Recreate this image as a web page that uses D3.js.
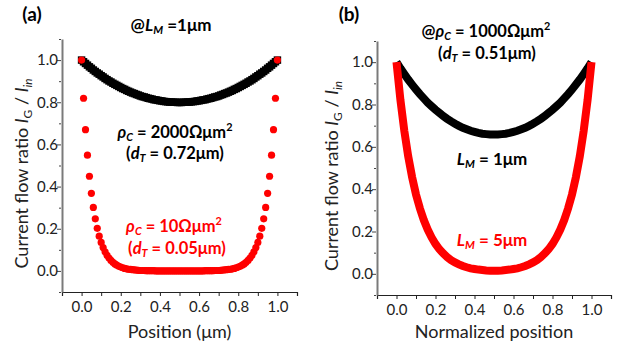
<!DOCTYPE html>
<html>
<head>
<meta charset="utf-8">
<script src="https://cdn.jsdelivr.net/npm/d3@7"></script>
<style>
  body { margin: 0; background: #fff; }
  svg { font-family: Lato, "Open Sans", sans-serif; }
</style>
</head>
<body>
<div class="grafico"></div>
<script>
var width = 623, height = 351;

// panel (a): position in um, sampled every 0.01 um
var stepA = 0.01;
var blackA = [1.000, .992, .984, .976, .968, .961, .953, .946, .939, .933, .926, .920, .913, .907, .901, .896, .890, .885, .880, .875,
  .870, .865, .861, .856, .852, .848, .844, .841, .837, .834, .830, .827, .825, .822, .819, .817, .815, .812, .811, .809,
  .807, .806, .804, .803, .802, .801, .801, .800, .800, .799, .799, .799, .800, .800, .801, .801, .802, .803, .804, .806,
  .807, .809, .811, .812, .815, .817, .819, .822, .825, .827, .830, .834, .837, .841, .844, .848, .852, .856, .861, .865,
  .870, .875, .880, .885, .890, .896, .901, .907, .913, .920, .926, .933, .939, .946, .953, .961, .968, .976, .984, .992, 1.000];
var redA = [1.000, .819, .670, .549, .449, .368, .301, .247, .202, .165, .135, .111, .091, .074, .061, .050, .041, .033, .027, .022,
  .018, .015, .012, .010, .008, .007, .006, .005, .004, .003, .002, .002, .002, .001, .001, .001, .001, .001, 0, 0,
  0, 0, 0, 0, 0, 0, 0, 0, 0, 0, 0, 0, 0, 0, 0, 0, 0, 0, 0, 0,
  0, 0, 0, .001, .001, .001, .001, .001, .002, .002, .002, .003, .004, .005, .006, .007, .008, .010, .012, .015,
  .018, .022, .027, .033, .041, .050, .061, .074, .091, .111, .135, .165, .202, .247, .301, .368, .449, .549, .670, .819, 1.000];

// panel (b): normalized position, sampled every 0.02
var stepB = 0.02;
var blackB = [1.000, .971, .944, .918, .894, .871, .849, .829, .809, .792, .775, .760, .745, .732, .720, .709, .699, .690, .683, .676,
  .671, .666, .662, .660, .658, .658, .658, .660, .662, .666, .671, .676, .683, .690, .699, .709, .720, .732, .745, .760,
  .775, .792, .809, .829, .849, .871, .894, .918, .944, .971, 1.000];
var redB = [1.000, .822, .676, .555, .457, .375, .309, .254, .209, .172, .141, .116, .096, .079, .065, .054, .045, .037, .031, .026,
  .023, .020, .018, .016, .015, .015, .015, .016, .018, .020, .023, .026, .031, .037, .045, .054, .065, .079, .096, .116,
  .141, .172, .209, .254, .309, .375, .457, .555, .676, .822, 1.000];

var majorTicks = [0, 0.2, 0.4, 0.6, 0.8, 1.0];
var allTicks = [-0.1, 0, 0.1, 0.2, 0.3, 0.4, 0.5, 0.6, 0.7, 0.8, 0.9, 1.0, 1.1];

var svg = d3.select(".grafico").append("svg")
  .attr("width", width)
  .attr("height", height);

// text with italic / sub / superscript pieces
function rich(x, y, parts, opt) {
  opt = opt || {};
  var size = opt.size || 17;
  var t = svg.append("text")
    .attr("x", x)
    .attr("y", y)
    .attr("text-anchor", opt.anchor || "middle")
    .attr("font-size", size)
    .attr("font-weight", opt.bold ? "bold" : null)
    .attr("fill", opt.color || "#000");
  if (opt.rotate) t.attr("transform", "rotate(-90," + x + "," + y + ")");
  var shift = 0;
  parts.forEach(function (p) {
    var s = t.append("tspan").text(p.t);
    var want = p.sub ? 0.2 : (p.sup ? -0.4 : 0);
    var fs = (p.sub || p.sup) ? 0.66 : 1;
    if (fs != 1) s.attr("font-size", size * fs);
    if (want != shift) s.attr("dy", ((want - shift) * size) + "px");
    shift = want;
    if (p.i) s.attr("font-style", "italic");
  });
  return t;
}

function panel(x, y, xTitle, yTitleX) {
  // x axis
  var xAxis = d3.axisBottom(x).tickValues(allTicks).tickSize(4)
    .tickFormat(function (d) { return majorTicks.indexOf(d) >= 0 ? d3.format(".1f")(d) : ""; });
  var gx = svg.append("g")
    .attr("transform", "translate(0," + y.range()[0] + ")")
    .call(xAxis);
  gx.select(".domain").attr("stroke", "#222").attr("stroke-width", 1.2);
  gx.selectAll(".tick line").attr("stroke", "#222");
  gx.selectAll("text").attr("font-size", 15).attr("fill", "#222").attr("dy", "0.85em")
    .attr("font-family", "Lato, sans-serif");

  // y axis
  var yAxis = d3.axisLeft(y).tickValues(allTicks).tickSize(0)
    .tickFormat(function (d) { return majorTicks.indexOf(d) >= 0 ? d3.format(".1f")(d) : ""; });
  var gy = svg.append("g")
    .attr("transform", "translate(" + x.range()[0] + ",0)")
    .call(yAxis);
  gy.select(".domain").attr("stroke", "#7a7a7a").attr("stroke-width", 2);
  gy.selectAll(".tick line")
    .attr("stroke", "#444")
    .attr("x2", function (d) { return majorTicks.indexOf(d) >= 0 ? -5 : -3; })
    .attr("x1", -1);
  gy.selectAll("text").attr("font-size", 15).attr("fill", "#222").attr("x", -4)
    .attr("font-family", "Lato, sans-serif");

  // axis titles
  svg.append("text")
    .attr("x", (x(0) + x(1)) / 2)
    .attr("y", 338)
    .attr("text-anchor", "middle")
    .attr("font-size", 18)
    .attr("fill", "#222")
    .text(xTitle);
  rich(yTitleX, (y(1.1) + y(-0.1)) / 2 + 8, [
    { t: "Current flow ratio " }, { t: "I", i: true }, { t: "G", sub: true },
    { t: " / " }, { t: "I", i: true }, { t: "in", sub: true, i: true }
  ], { size: 18, rotate: true, color: "#222" });
}

// ---- panel (a)
var xA = d3.scaleLinear().domain([-0.1, 1.1]).range([62, 297]);
var yA = d3.scaleLinear().domain([-0.1, 1.1]).range([292, 39]);
panel(xA, yA, "Position (\u03bcm)", 28);

svg.append("g").selectAll("path")
  .data(blackA)
  .enter().append("path")
  .attr("d", d3.symbol(d3.symbolSquare, 56))
  .attr("transform", function (d, i) { return "translate(" + xA(i * stepA) + "," + yA(d) + ")"; })
  .attr("fill", "#000");

svg.append("g").selectAll("circle")
  .data(redA)
  .enter().append("circle")
  .attr("cx", function (d, i) { return xA(i * stepA); })
  .attr("cy", function (d) { return yA(d); })
  .attr("r", 3.6)
  .attr("fill", "#ff0000");

// ---- panel (b)
var xB = d3.scaleLinear().domain([-0.1, 1.1]).range([377, 611]);
var yB = d3.scaleLinear().domain([-0.1, 1.1]).range([295, 41]);
panel(xB, yB, "Normalized position", 338);

var lineB = d3.line()
  .x(function (d, i) { return xB(i * stepB); })
  .y(function (d) { return yB(d); });
svg.append("path").datum(blackB)
  .attr("d", lineB).attr("fill", "none").attr("stroke", "#000").attr("stroke-width", 8);
svg.append("path").datum(redB)
  .attr("d", lineB).attr("fill", "none").attr("stroke", "#ff0000").attr("stroke-width", 8);

// ---- labels
rich(32, 21, [{ t: "(a)" }], { bold: true, size: 19 });
rich(349, 21, [{ t: "(b)" }], { bold: true, size: 19 });

rich(171, 31, [{ t: "@" }, { t: "L", i: true }, { t: "M", sub: true, i: true }, { t: " =1\u03bcm" }], { bold: true, size: 17 });
rich(175, 138, [{ t: "\u03c1", i: true }, { t: "C", sub: true, i: true }, { t: " = 2000\u03a9\u03bcm" }, { t: "2", sup: true }], { bold: true, size: 16.5 });
rich(175, 159, [{ t: "(" }, { t: "d", i: true }, { t: "T", sub: true, i: true }, { t: " = 0.72\u03bcm)" }], { bold: true, size: 16.5 });
rich(174, 232, [{ t: "\u03c1", i: true }, { t: "C", sub: true, i: true }, { t: " = 10\u03a9\u03bcm" }, { t: "2", sup: true }], { bold: true, size: 16.5, color: "#ff0000" });
rich(177, 254, [{ t: "(" }, { t: "d", i: true }, { t: "T", sub: true, i: true }, { t: " = 0.05\u03bcm)" }], { bold: true, size: 16.5, color: "#ff0000" });

rich(486, 37, [{ t: "@" }, { t: "\u03c1", i: true }, { t: "C", sub: true, i: true }, { t: " = 1000\u03a9\u03bcm" }, { t: "2", sup: true }], { bold: true, size: 16.5 });
rich(487, 59, [{ t: "(" }, { t: "d", i: true }, { t: "T", sub: true, i: true }, { t: " = 0.51\u03bcm)" }], { bold: true, size: 16.5 });
rich(492, 165, [{ t: "L", i: true }, { t: "M", sub: true, i: true }, { t: " = 1\u03bcm" }], { bold: true, size: 17 });
rich(492, 246, [{ t: "L", i: true }, { t: "M", sub: true, i: true }, { t: " = 5\u03bcm" }], { bold: true, size: 17, color: "#ff0000" });
</script>
</body>
</html>
